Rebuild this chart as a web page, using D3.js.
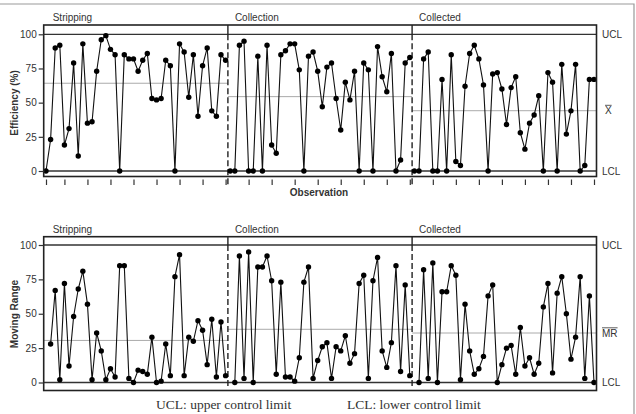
<!DOCTYPE html>
<html lang="en">
<head>
    <meta charset="UTF-8">
    <title>Individuals and moving range chart</title>
    <script src="https://cdn.jsdelivr.net/npm/d3@7"></script>
    <style>
        body{
            margin:0px;
            background:white;
        }
        text{
            font-family: "Liberation Sans", Arial, sans-serif;
            fill:#333;
        }
    </style>
</head>
<body>
    <svg id="chart" width="636" height="414"></svg>
</body>
<script>
    // phases
    const phases = ["Stripping", "Collection", "Collected"];

    // individual values, efficiency (%), 40 observations per phase
    const stripEff = [0,23,90,92,19,31,79,11,93,35,36,73,96,99,89,85,0,85,82,82,73,81,86,53,52,53,81,77,0,93,87,54,85,40,77,90,44,40,85,81];
    const collectionEff = [0,0,92,95,0,0,84,0,92,19,13,85,88,93,93,74,0,84,87,73,47,76,79,53,30,65,52,73,0,79,74,0,91,69,58,86,0,8,79,83];
    const collectedEff = [0,0,82,87,0,0,67,0,85,7,4,62,86,92,82,63,0,71,72,60,34,61,69,28,16,35,41,55,0,72,65,0,78,27,44,78,0,4,67,67];

    // moving ranges (start at the 2nd observation of each phase)
    const stripMR = [28,67,2,72,12,48,68,81,57,2,36,23,2,10,4,85,85,3,0,9,8,6,33,0,1,28,5,77,93,5,33,30,45,38,13,46,4,44,5];
    const collectionMR = [0,92,3,95,0,84,84,92,74,6,73,4,4,1,18,73,84,3,16,26,29,3,26,23,34,14,21,72,78,3,74,91,23,11,29,85,8,71,5];
    const collectedMR = [0,82,3,87,0,66,66,85,78,2,57,23,6,10,19,63,71,0,13,25,27,6,40,12,18,6,14,55,72,7,65,77,50,17,33,77,3,63,0];

    // centre lines per phase
    const effMean = [64.2, 54.4, 44.1];
    const mrMean = [30.6, 38.7, 36];
    const ucl = 100, lcl = 0;

    const yTicks = [0, 25, 50, 75, 100];
    const xTicks = [1,5,10,15,20,25,30,35,40,45,50,55,60,65,70,75,80,85,90,95,100,105,110,115,120];

    const svg = d3.select('#chart');
    const boxL = 43.7, boxR = 596.5;
    const x = d3.scaleLinear().domain([1, 120]).range([46, 594]);
    const phaseLen = 40;

    // outer frame
    svg.append('path').attr('d', 'M0,4H634V414')
        .attr('fill', 'none').attr('stroke', '#999').attr('stroke-width', 1.2);

    function panel(cfg){
        const g = svg.append('g');
        const y = d3.scaleLinear().domain([0, 100]).range([cfg.y0, cfg.y100]);

        // centre lines
        cfg.means.forEach((m, i) => {
            const a = i === 0 ? boxL : x(i * phaseLen + 0.5);
            const b = i === 2 ? boxR : x((i + 1) * phaseLen + 0.5);
            g.append('line').attr('x1', a).attr('x2', b).attr('y1', y(m)).attr('y2', y(m))
                .attr('stroke', '#aaa').attr('stroke-width', 1);
        });
        // control limits
        [ucl, lcl].forEach(v => {
            g.append('line').attr('x1', boxL).attr('x2', boxR).attr('y1', y(v)).attr('y2', y(v))
                .attr('stroke', '#333').attr('stroke-width', 1.3);
        });
        // phase separators
        [1, 2].forEach(i => {
            const px = x(i * phaseLen + 0.5);
            g.append('line').attr('x1', px).attr('x2', px).attr('y1', cfg.top).attr('y2', y(ucl))
                .attr('stroke', '#222').attr('stroke-width', 1.4);
            g.append('line').attr('x1', px).attr('x2', px).attr('y1', y(ucl)).attr('y2', cfg.sepBottom)
                .attr('stroke', '#222').attr('stroke-width', 1.4).attr('stroke-dasharray', '6,3');
        });
        // phase labels
        phases.forEach((p, i) => {
            const px = i === 0 ? boxL + 9 : x(i * phaseLen + 0.5) + 7;
            g.append('text').attr('x', px).attr('y', cfg.top - 4).attr('font-size', '10px').text(p);
        });

        // data
        const line = d3.line().x(d => x(d.obs)).y(d => y(d.v));
        cfg.series.forEach((vals, i) => {
            const pts = vals.map((v, j) => ({obs: i * phaseLen + cfg.start + j, v: v}));
            g.append('path').datum(pts).attr('d', line)
                .attr('fill', 'none').attr('stroke', '#111').attr('stroke-width', 1.1);
            g.selectAll(null).data(pts).enter().append('circle')
                .attr('cx', d => x(d.obs)).attr('cy', d => y(d.v)).attr('r', 2.7)
                .attr('fill', '#000');
        });

        // box
        g.append('rect').attr('x', boxL).attr('y', cfg.top).attr('width', boxR - boxL)
            .attr('height', cfg.bottom - cfg.top)
            .attr('fill', 'none').attr('stroke', '#222').attr('stroke-width', 1.6);

        // y axis
        const yAxis = d3.axisLeft(y).tickValues(yTicks).tickSize(5).tickPadding(2);
        const ga = g.append('g').attr('transform', 'translate(' + boxL + ',0)').call(yAxis);
        ga.select('.domain').remove();
        ga.selectAll('line').attr('stroke', '#333').attr('stroke-width', 1.2);
        ga.selectAll('text').attr('font-size', '10px').attr('fill', '#333')
            .style('font-family', '"Liberation Sans", Arial, sans-serif');

        g.append('text').attr('transform', 'translate(18,' + cfg.titleY + ') rotate(-90)')
            .attr('text-anchor', 'middle').attr('font-size', '10px').attr('font-weight', 'bold')
            .text(cfg.title);

        // right labels
        const rx = 602;
        g.append('text').attr('x', rx).attr('y', y(ucl) + 3.5).attr('font-size', '10px').text('UCL');
        g.append('text').attr('x', rx).attr('y', y(lcl) + 3.5).attr('font-size', '10px').text('LCL');
        const ml = g.append('text').attr('x', rx + cfg.meanDx).attr('y', cfg.meanY + 3.5)
            .attr('font-size', '10px').text(cfg.meanLabel);
        const w = ml.node().getComputedTextLength();
        g.append('line').attr('x1', rx + cfg.meanDx).attr('x2', rx + cfg.meanDx + w)
            .attr('y1', cfg.meanY - 5.2).attr('y2', cfg.meanY - 5.2)
            .attr('stroke', '#333').attr('stroke-width', 0.8);
        return y;
    }

    panel({
        top: 25, bottom: 176.5, y0: 171, y100: 34.3, sepBottom: 185,
        means: effMean, series: [stripEff, collectionEff, collectedEff], start: 1,
        title: 'Efficiency (%)', titleY: 103, meanLabel: 'X', meanDx: 3, meanY: 110.5
    });

    // x axis ticks of the individuals chart
    const xAxis = d3.axisBottom(x).tickValues(xTicks).tickSize(5.5).tickFormat('');
    const gx = svg.append('g').attr('transform', 'translate(0,179.5)').call(xAxis);
    gx.select('.domain').remove();
    gx.selectAll('line').attr('stroke', '#333').attr('stroke-width', 1.2);

    svg.append('text').attr('x', 319).attr('y', 196).attr('text-anchor', 'middle')
        .attr('font-size', '10px').attr('font-weight', 'bold').text('Observation');

    panel({
        top: 236.7, bottom: 390.5, y0: 382.5, y100: 245, sepBottom: 387,
        means: mrMean, series: [stripMR, collectionMR, collectedMR], start: 2,
        title: 'Moving Range', titleY: 314, meanLabel: 'MR', meanDx: 0, meanY: 333
    });

    // footnote
    svg.append('text').attr('x', 156).attr('y', 409).attr('font-size', '13.5px')
        .style('font-family', '"Liberation Serif", "Times New Roman", serif')
        .text('UCL: upper control limit');
    svg.append('text').attr('x', 347).attr('y', 409).attr('font-size', '13.5px')
        .style('font-family', '"Liberation Serif", "Times New Roman", serif')
        .text('LCL: lower control limit');
</script>
</html>
